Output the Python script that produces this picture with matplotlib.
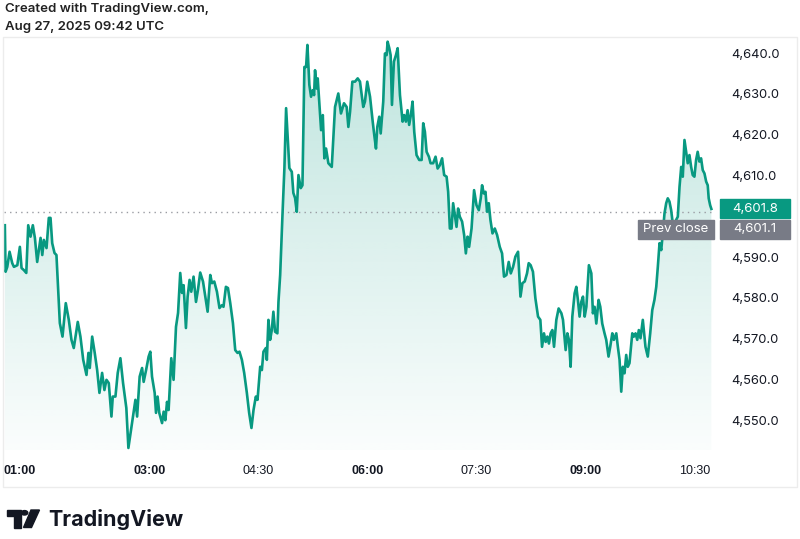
#!/usr/bin/env python3
"""
Intraday price chart in the style of a TradingView snapshot
"""
import matplotlib
matplotlib.use('Agg')
import matplotlib.pyplot as plt
import matplotlib.transforms as mtransforms
from matplotlib.colors import to_rgb
from matplotlib.patches import Rectangle, Polygon, Circle
import numpy as np

# chart time in minutes after midnight
minutes = [
    60.7, 61.3, 62.7, 64.6, 66.8, 68.2, 71.0, 73.1, 74.5, 76.4, 78.4, 80.0,
    81.9, 83.8, 85.5, 87.4, 90.2, 91.6, 92.9, 95.1, 97.0, 98.4, 99.8, 101.7,
    103.3, 106.1, 108.3, 111.0, 113.5, 115.7, 117.6, 120.9, 123.1, 125.4,
    128.1, 129.7, 130.8, 132.8, 134.9, 136.9, 138.8, 141.0, 142.9, 144.6,
    146.5, 148.7, 149.8, 152.0, 153.9, 156.1, 158.3, 161.0, 162.7, 165.7,
    168.5, 169.9, 172.0, 174.0, 175.3, 177.3, 179.4, 180.8, 182.2, 184.4,
    185.5, 186.8, 188.2, 190.5, 191.8, 193.2, 194.6, 195.9, 198.1, 200.0,
    202.0, 203.7, 205.5, 207.0, 208.3, 210.2, 211.6, 213.2, 214.6, 216.5,
    218.5, 220.1, 222.0, 224.3, 226.2, 228.1, 230.3, 231.7, 233.6, 235.8,
    237.9, 239.9, 241.2, 243.2, 244.9, 246.8, 249.0, 250.9, 252.8, 254.4,
    256.4, 258.3, 260.5, 262.4, 264.3, 266.0, 267.9, 269.3, 271.5, 272.9,
    274.2, 276.2, 277.0, 278.3, 279.7, 281.1, 282.4, 283.8, 285.7, 286.6,
    288.0, 289.9, 291.5, 292.9, 294.0, 295.6, 297.6, 298.9, 300.3, 301.7,
    303.1, 305.0, 306.4, 308.0, 309.4, 310.5, 312.1, 313.5, 314.9, 316.0,
    316.8, 318.2, 319.0, 320.4, 321.8, 323.2, 324.5, 325.9, 327.8, 330.6,
    333.3, 336.0, 338.2, 340.7, 342.9, 344.3, 345.7, 347.6, 349.8, 352.0,
    353.9, 356.6, 358.0, 359.9, 362.2, 364.4, 365.7, 367.1, 368.2, 369.8,
    371.0, 373.1, 374.5, 375.9, 376.7, 378.1, 379.2, 380.3, 381.9, 383.6,
    385.0, 386.9, 389.1, 390.4, 391.8, 393.2, 394.5, 395.9, 397.3, 398.7,
    400.6, 402.8, 404.8, 406.1, 407.5, 408.9, 410.8, 412.2, 414.3, 416.3,
    418.0, 419.8, 421.7, 423.4, 425.4, 426.7, 428.1, 429.5, 430.8, 432.2,
    433.6, 434.9, 436.3, 438.2, 439.9, 441.3, 442.7, 444.0, 446.0, 448.1,
    450.1, 452.0, 453.6, 454.7, 456.1, 457.5, 458.8, 460.2, 461.6, 463.3,
    465.2, 467.1, 469.3, 471.2, 472.8, 474.8, 476.7, 478.4, 480.3, 482.2,
    484.4, 486.4, 488.0, 489.9, 491.8, 493.2, 494.8, 496.7, 498.7, 500.9,
    502.8, 504.2, 505.8, 507.2, 508.6, 509.9, 511.3, 512.7, 514.1, 516.0,
    517.9, 520.2, 521.5, 523.7, 525.1, 526.4, 527.8, 529.2, 531.1, 532.5,
    533.8, 535.2, 536.6, 538.0, 539.4, 540.8, 542.9, 544.9, 546.2, 547.6,
    549.0, 550.9, 552.3, 553.9, 555.8, 557.2, 559.1, 560.5, 562.2, 563.5,
    565.5, 566.8, 568.2, 569.6, 570.9, 572.3, 573.7, 575.0, 576.4, 578.7,
    580.0, 581.4, 582.8, 584.1, 585.5, 587.4, 589.6, 591.5, 593.5, 595.2,
    597.0, 598.5, 599.8, 601.2, 602.6, 603.9, 605.3, 606.7, 608.0, 609.4,
    610.8, 612.1, 613.5, 614.9, 616.3, 617.7, 619.1, 620.4, 621.8, 623.2,
    624.5, 625.9, 627.3, 628.6, 630.0, 631.4, 632.7, 634.1, 635.5, 636.9,
    638.3, 639.7, 641.0, 641.8, 643.0, 644.0,
]

prices = [
    4597.8, 4586.4, 4587.6, 4591.3, 4588.5, 4587.6, 4588.0, 4592.5, 4587.3,
    4586.8, 4586.1, 4597.8, 4595.0, 4597.8, 4594.7, 4588.8, 4594.7, 4590.5,
    4594.2, 4592.2, 4599.6, 4599.6, 4593.4, 4591.0, 4590.5, 4573.8, 4570.5,
    4578.7, 4574.6, 4569.7, 4567.7, 4574.1, 4570.5, 4564.8, 4561.1, 4566.5,
    4562.8, 4570.5, 4566.5, 4562.3, 4556.7, 4561.6, 4557.4, 4559.9, 4559.1,
    4550.9, 4555.8, 4555.8, 4561.6, 4565.2, 4559.1, 4553.0, 4543.2, 4549.3,
    4555.0, 4550.9, 4560.7, 4562.8, 4559.4, 4562.3, 4565.6, 4566.8, 4560.7,
    4556.7, 4551.8, 4555.8, 4551.8, 4549.3, 4552.1, 4550.0, 4554.5, 4552.5,
    4565.2, 4559.9, 4572.9, 4576.3, 4586.1, 4581.2, 4583.1, 4572.6, 4580.3,
    4584.4, 4581.5, 4585.2, 4579.0, 4581.9, 4586.2, 4584.0, 4580.3, 4576.6,
    4585.6, 4583.6, 4584.0, 4581.5, 4577.5, 4578.2, 4577.8, 4582.7, 4582.4,
    4578.7, 4573.8, 4567.2, 4566.5, 4566.8, 4564.8, 4561.6, 4556.7, 4551.8,
    4548.1, 4552.5, 4555.8, 4555.0, 4563.1, 4562.3, 4566.8, 4567.7, 4564.8,
    4574.6, 4569.7, 4572.1, 4576.6, 4571.7, 4571.3, 4579.0, 4585.6, 4600.3,
    4611.8, 4626.5, 4620.7, 4611.8, 4610.9, 4605.7, 4604.5, 4601.1, 4610.1,
    4606.9, 4607.6, 4636.6, 4636.6, 4642.0, 4632.2, 4629.3, 4630.9, 4629.7,
    4635.8, 4631.3, 4633.8, 4627.3, 4621.1, 4624.8, 4614.2, 4616.6, 4613.0,
    4612.1, 4626.8, 4630.1, 4625.2, 4627.7, 4626.8, 4621.9, 4625.6, 4633.0,
    4633.0, 4633.8, 4633.0, 4626.8, 4628.1, 4633.0, 4629.3, 4623.2, 4619.9,
    4616.6, 4621.9, 4624.4, 4620.3, 4628.1, 4639.9, 4639.5, 4642.8, 4641.2,
    4639.5, 4627.3, 4637.9, 4639.5, 4641.2, 4629.7, 4623.2, 4624.8, 4623.2,
    4626.0, 4622.4, 4624.8, 4628.1, 4620.7, 4615.0, 4613.8, 4613.8, 4622.8,
    4620.7, 4615.8, 4614.6, 4613.0, 4613.0, 4614.6, 4611.7, 4612.5, 4614.2,
    4610.1, 4609.7, 4606.0, 4597.0, 4597.0, 4603.2, 4600.3, 4597.4, 4601.9,
    4599.9, 4598.7, 4595.4, 4590.9, 4595.0, 4592.5, 4597.0, 4606.4, 4602.7,
    4601.5, 4604.4, 4607.6, 4605.6, 4606.0, 4601.1, 4603.2, 4599.1, 4595.8,
    4597.0, 4595.4, 4592.5, 4590.9, 4585.2, 4585.6, 4588.8, 4586.0, 4587.6,
    4590.1, 4591.3, 4580.3, 4583.6, 4584.0, 4586.0, 4588.5, 4588.0, 4586.4,
    4579.9, 4575.4, 4574.6, 4568.0, 4571.3, 4569.2, 4570.5, 4568.8, 4571.3,
    4572.1, 4568.0, 4574.6, 4577.4, 4576.2, 4574.6, 4567.2, 4571.3, 4569.7,
    4563.1, 4575.4, 4581.1, 4582.7, 4579.5, 4575.4, 4579.0, 4580.3, 4575.4,
    4577.8, 4588.0, 4586.0, 4576.2, 4577.8, 4573.7, 4579.5, 4577.8, 4573.7,
    4571.3, 4569.7, 4565.6, 4568.0, 4571.3, 4569.7, 4571.3, 4568.0, 4564.8,
    4557.0, 4563.1, 4561.5, 4566.0, 4563.1, 4564.0, 4571.3, 4570.5, 4571.3,
    4569.7, 4572.1, 4570.1, 4574.6, 4568.0, 4565.6, 4571.3, 4577.0, 4579.5,
    4582.7, 4587.6, 4593.4, 4591.7, 4595.8, 4600.7, 4603.2, 4604.4, 4603.6,
    4601.5, 4598.3, 4597.4, 4599.1, 4599.9, 4607.2, 4612.1, 4609.7, 4618.7,
    4615.8, 4613.0, 4615.0, 4612.1, 4610.1, 4609.7, 4613.8, 4615.8, 4613.4,
    4614.2, 4611.3, 4610.5, 4608.5, 4607.6, 4604.4, 4602.7, 4601.8,
]

tick_minutes = [60, 180, 270, 360, 450, 540, 630]
tick_labels = ['01:00', '03:00', '04:30', '06:00', '07:30', '09:00', '10:30']
tick_bold = [True, True, False, True, False, True, False]

price_ticks = [4550, 4560, 4570, 4580, 4590, 4610, 4620, 4630, 4640]
prev_close = 4601.1
last_price = prices[-1]

GREEN = '#089981'
GREY = '#787b86'
INK = '#131722'
W, H = 800, 539


def fig_xy(x, y):
    """Pixel position (from the top left) to figure fraction"""
    return x / W, 1 - y / H


def draw_logo(fig):
    """Rough TradingView mark plus word"""
    t = fig.transFigure
    bar = [fig_xy(7, 510), fig_xy(20.5, 510), fig_xy(20.5, 527.5),
           fig_xy(13.5, 527.5), fig_xy(13.5, 516), fig_xy(7, 516)]
    fig.add_artist(Polygon(bar, closed=True, transform=t, color=INK))
    fig.add_artist(Circle(fig_xy(24.5, 512.8), 3.3 / W, transform=t, color=INK))
    slash = [fig_xy(31, 510), fig_xy(39.5, 510), fig_xy(31.5, 527.5),
             fig_xy(23.5, 527.5)]
    fig.add_artist(Polygon(slash, closed=True, transform=t, color=INK))
    fig.text(*fig_xy(48.5, 519), 'TradingView', fontsize=15.5, fontweight='bold',
             color=INK, va='center', ha='left')


def main():
    """Main function"""
    plt.rcParams['font.family'] = ['Inter', 'DejaVu Sans']
    fig = plt.figure(figsize=(W / 100, H / 100), dpi=100)
    fig.patch.set_facecolor('white')

    # outer frame of the snapshot
    fig.add_artist(Rectangle(fig_xy(3, 487), 794 / W, 450 / H,
                             transform=fig.transFigure, fill=False,
                             edgecolor='#ececec', lw=1))

    x0, y0 = fig_xy(4, 450)
    ax = fig.add_axes([x0, y0, 711 / W, 412 / H])
    xmin, xmax = 60, 647
    ymin, ymax = 4542.7, 4643.7

    # gradient area under the line
    rgba = np.zeros((256, 1, 4))
    rgba[..., :3] = to_rgb(GREEN)
    rgba[..., 3] = np.linspace(0.26, 0.02, 256)[:, None]
    im = ax.imshow(rgba, extent=[xmin, xmax, ymin, ymax], aspect='auto',
                   origin='upper', zorder=1, interpolation='bilinear')
    verts = [(minutes[0], ymin)] + list(zip(minutes, prices)) + [(minutes[-1], ymin)]
    area = Polygon(verts, closed=True, facecolor='none', edgecolor='none',
                   transform=ax.transData)
    ax.add_patch(area)
    im.set_clip_path(area)

    ax.plot(minutes, prices, color=GREEN, lw=1.9, zorder=3,
            solid_joinstyle='round')
    ax.axhline(prev_close, color='#9a9ca3', lw=1, ls=(0, (1, 3)), zorder=2)

    ax.set_xlim(xmin, xmax)
    ax.set_ylim(ymin, ymax)
    for s in ax.spines.values():
        s.set_visible(False)

    # time axis
    ax.set_xticks(tick_minutes, tick_labels)
    ax.tick_params(axis='x', length=0, pad=11, labelsize=9, labelcolor=INK)
    for lab, bold in zip(ax.get_xticklabels(), tick_bold):
        lab.set_fontweight('bold' if bold else 'normal')
        lab.set_fontfamily(['Liberation Sans', 'DejaVu Sans'])
    ax.get_xticklabels()[0].set_horizontalalignment('left')

    # price axis
    ax.yaxis.tick_right()
    ax.set_yticks(price_ticks, ['{:,.1f}'.format(v) for v in price_ticks])
    ax.tick_params(axis='y', length=0, pad=11.5, labelsize=9.3, labelcolor=INK)

    # price labels on the right
    trans = mtransforms.blended_transform_factory(fig.transFigure, ax.transData)
    box_h = 19 / (412 / (ymax - ymin))
    gap = 1.5 / (412 / (ymax - ymin))
    last_lo = last_price - box_h / 2
    prev_lo = last_lo - gap - box_h
    ax.add_patch(Rectangle((720 / W, last_lo), 70 / W, box_h, transform=trans,
                           color=GREEN, clip_on=False, zorder=5))
    ax.text(755 / W, last_lo + box_h / 2, '{:,.1f}'.format(last_price),
            transform=trans, color='white', fontsize=9.5, ha='center',
            va='center', zorder=6, clip_on=False)
    ax.add_patch(Rectangle((720 / W, prev_lo), 70 / W, box_h, transform=trans,
                           color=GREY, clip_on=False, zorder=5))
    ax.text(755 / W, prev_lo + box_h / 2, '{:,.1f}'.format(prev_close),
            transform=trans, color='white', fontsize=9.5, ha='center',
            va='center', zorder=6, clip_on=False)
    ax.add_patch(Rectangle((638 / W, prev_lo), 76 / W, box_h, transform=trans,
                           color=GREY, clip_on=False, zorder=5))
    ax.text(676 / W, prev_lo + box_h / 2, 'Prev close', transform=trans,
            color='white', fontsize=9.5, ha='center', va='center', zorder=6,
            clip_on=False)

    # header and logo
    fig.text(*fig_xy(5, 3), 'Created with TradingView.com,', fontsize=9.5,
             fontweight='semibold', color='#222222', va='top', ha='left')
    fig.text(*fig_xy(5, 21), 'Aug 27, 2025 09:42 UTC', fontsize=9.5,
             fontweight='semibold', color='#222222', va='top', ha='left')
    draw_logo(fig)

    fig.savefig('out.png', dpi=100, facecolor='white')


if __name__ == "__main__":
    main()
